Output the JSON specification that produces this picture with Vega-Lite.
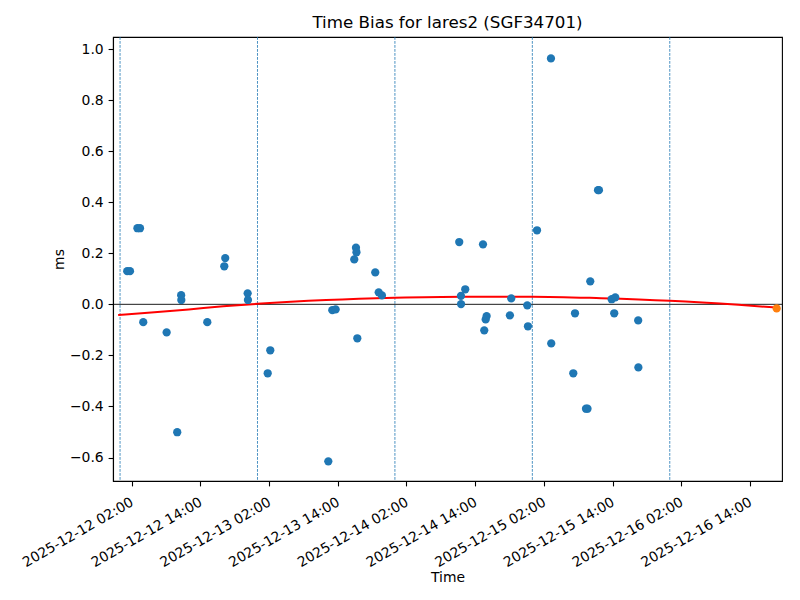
{
  "$schema": "https://vega.github.io/schema/vega-lite/v6.json",
  "width": 669,
  "height": 444,
  "autosize": {"type": "none"},
  "padding": {"left": 113, "top": 37, "right": 18, "bottom": 119},
  "background": "white",
  "title": {
    "text": "Time Bias for lares2 (SGF34701)",
    "font": "DejaVu Sans",
    "fontSize": 16.7,
    "fontWeight": "normal",
    "color": "black",
    "anchor": "middle",
    "offset": 5
  },
  "config": {
    "view": {"stroke": "black", "strokeWidth": 1.1},
    "axis": {
      "labelFont": "DejaVu Sans",
      "labelFontSize": 13.9,
      "labelColor": "black",
      "titleFont": "DejaVu Sans",
      "titleFontSize": 13.9,
      "titleFontWeight": "normal",
      "titleColor": "black",
      "domainColor": "black",
      "domainWidth": 1.1,
      "tickColor": "black",
      "tickWidth": 1.1,
      "tickSize": 4.9,
      "grid": false
    }
  },
  "datasets": {
    "obs": [
      {"t": "2025-12-12T01:15:00", "v": 0.130},
      {"t": "2025-12-12T01:44:00", "v": 0.130},
      {"t": "2025-12-12T03:02:00", "v": 0.298},
      {"t": "2025-12-12T03:29:00", "v": 0.298},
      {"t": "2025-12-12T04:03:00", "v": -0.070},
      {"t": "2025-12-12T08:08:00", "v": -0.110},
      {"t": "2025-12-12T09:59:00", "v": -0.501},
      {"t": "2025-12-12T10:40:00", "v": 0.036},
      {"t": "2025-12-12T10:42:00", "v": 0.017},
      {"t": "2025-12-12T15:14:00", "v": -0.070},
      {"t": "2025-12-12T18:12:00", "v": 0.149},
      {"t": "2025-12-12T18:22:00", "v": 0.181},
      {"t": "2025-12-12T22:17:00", "v": 0.043},
      {"t": "2025-12-12T22:20:00", "v": 0.017},
      {"t": "2025-12-13T01:47:00", "v": -0.270},
      {"t": "2025-12-13T02:14:00", "v": -0.180},
      {"t": "2025-12-13T12:22:00", "v": -0.615},
      {"t": "2025-12-13T13:04:00", "v": -0.023},
      {"t": "2025-12-13T13:39:00", "v": -0.020},
      {"t": "2025-12-13T16:54:00", "v": 0.176},
      {"t": "2025-12-13T17:12:00", "v": 0.222},
      {"t": "2025-12-13T17:17:00", "v": 0.204},
      {"t": "2025-12-13T17:26:00", "v": -0.133},
      {"t": "2025-12-13T20:34:00", "v": 0.125},
      {"t": "2025-12-13T21:10:00", "v": 0.047},
      {"t": "2025-12-13T21:44:00", "v": 0.035},
      {"t": "2025-12-14T11:14:00", "v": 0.244},
      {"t": "2025-12-14T11:32:00", "v": 0.033},
      {"t": "2025-12-14T11:33:00", "v": 0.001},
      {"t": "2025-12-14T12:17:00", "v": 0.059},
      {"t": "2025-12-14T15:23:00", "v": 0.235},
      {"t": "2025-12-14T15:36:00", "v": -0.102},
      {"t": "2025-12-14T15:51:00", "v": -0.059},
      {"t": "2025-12-14T16:01:00", "v": -0.046},
      {"t": "2025-12-14T20:05:00", "v": -0.043},
      {"t": "2025-12-14T20:19:00", "v": 0.023},
      {"t": "2025-12-14T23:07:00", "v": -0.004},
      {"t": "2025-12-14T23:14:00", "v": -0.086},
      {"t": "2025-12-15T00:49:00", "v": 0.290},
      {"t": "2025-12-15T03:15:00", "v": 0.963},
      {"t": "2025-12-15T03:18:00", "v": -0.153},
      {"t": "2025-12-15T07:09:00", "v": -0.270},
      {"t": "2025-12-15T07:27:00", "v": -0.035},
      {"t": "2025-12-15T09:22:00", "v": -0.409},
      {"t": "2025-12-15T09:38:00", "v": -0.409},
      {"t": "2025-12-15T10:07:00", "v": 0.090},
      {"t": "2025-12-15T11:28:00", "v": 0.447},
      {"t": "2025-12-15T11:38:00", "v": 0.447},
      {"t": "2025-12-15T13:51:00", "v": 0.020},
      {"t": "2025-12-15T14:18:00", "v": -0.035},
      {"t": "2025-12-15T14:29:00", "v": 0.027},
      {"t": "2025-12-15T18:29:00", "v": -0.063},
      {"t": "2025-12-15T18:31:00", "v": -0.247}
    ],
    "fit": [
      {"t": "2025-12-11T23:40:00", "v": -0.042},
      {"t": "2025-12-12T06:00:00", "v": -0.031},
      {"t": "2025-12-12T12:00:00", "v": -0.020},
      {"t": "2025-12-12T18:00:00", "v": -0.008},
      {"t": "2025-12-13T00:00:00", "v": 0.002},
      {"t": "2025-12-13T12:00:00", "v": 0.017},
      {"t": "2025-12-14T00:00:00", "v": 0.026},
      {"t": "2025-12-14T12:00:00", "v": 0.030},
      {"t": "2025-12-15T00:00:00", "v": 0.030},
      {"t": "2025-12-15T12:00:00", "v": 0.024},
      {"t": "2025-12-16T00:00:00", "v": 0.014},
      {"t": "2025-12-16T12:00:00", "v": -0.002},
      {"t": "2025-12-16T18:40:00", "v": -0.013}
    ],
    "pred": [
      {"t": "2025-12-16T18:40:00", "v": -0.016}
    ],
    "midnights": [
      {"t": "2025-12-12T00:00:00"},
      {"t": "2025-12-13T00:00:00"},
      {"t": "2025-12-14T00:00:00"},
      {"t": "2025-12-15T00:00:00"},
      {"t": "2025-12-16T00:00:00"}
    ],
    "zero": [
      {"v": 0}
    ]
  },
  "layer": [
    {
      "data": {"name": "midnights"},
      "mark": {"type": "rule", "color": "#1f77b4", "strokeWidth": 0.8, "strokeDash": [2.8, 1.2], "opacity": 1},
      "encoding": {
        "x": {
          "field": "t", "type": "temporal", "title": "Time",
          "scale": {"domain": [{"year": 2025, "month": 12, "date": 11, "hours": 22, "minutes": 46}, {"year": 2025, "month": 12, "date": 16, "hours": 19, "minutes": 36}]}
        }
      }
    },
    {
      "data": {"name": "zero"},
      "mark": {"type": "rule", "color": "black", "strokeWidth": 0.9},
      "encoding": {
        "y": {
          "field": "v", "type": "quantitative", "title": "ms",
          "scale": {"domain": [-0.692, 1.047], "nice": false, "zero": false}
        }
      }
    },
    {
      "data": {"name": "fit"},
      "mark": {"type": "line", "color": "red", "strokeWidth": 2, "interpolate": "monotone"},
      "encoding": {
        "x": {
          "field": "t", "type": "temporal", "title": "Time",
          "scale": {"domain": [{"year": 2025, "month": 12, "date": 11, "hours": 22, "minutes": 46}, {"year": 2025, "month": 12, "date": 16, "hours": 19, "minutes": 36}]}
        },
        "y": {
          "field": "v", "type": "quantitative", "title": "ms",
          "scale": {"domain": [-0.692, 1.047], "nice": false, "zero": false}
        }
      }
    },
    {
      "data": {"name": "obs"},
      "mark": {"type": "circle", "color": "#1f77b4", "opacity": 1, "size": 68},
      "encoding": {
        "x": {
          "field": "t", "type": "temporal", "title": "Time",
          "scale": {"domain": [{"year": 2025, "month": 12, "date": 11, "hours": 22, "minutes": 46}, {"year": 2025, "month": 12, "date": 16, "hours": 19, "minutes": 36}]},
          "axis": {
            "values": [
              {"year": 2025, "month": 12, "date": 12, "hours": 2},
              {"year": 2025, "month": 12, "date": 12, "hours": 14},
              {"year": 2025, "month": 12, "date": 13, "hours": 2},
              {"year": 2025, "month": 12, "date": 13, "hours": 14},
              {"year": 2025, "month": 12, "date": 14, "hours": 2},
              {"year": 2025, "month": 12, "date": 14, "hours": 14},
              {"year": 2025, "month": 12, "date": 15, "hours": 2},
              {"year": 2025, "month": 12, "date": 15, "hours": 14},
              {"year": 2025, "month": 12, "date": 16, "hours": 2},
              {"year": 2025, "month": 12, "date": 16, "hours": 14}
            ],
            "format": "%Y-%m-%d %H:%M",
            "labelAngle": -30,
            "labelAlign": "right",
            "labelBaseline": "top",
            "labelPadding": 9,
            "labelOffset": -3,
            "labelOverlap": false,
            "labelFlush": false,
            "titleX": 334.5,
            "titleY": 100.5,
            "titleBaseline": "alphabetic",
            "titleAlign": "center"
          }
        },
        "y": {
          "field": "v", "type": "quantitative", "title": "ms",
          "scale": {"domain": [-0.692, 1.047], "nice": false, "zero": false},
          "axis": {
            "values": [-0.6, -0.4, -0.2, 0.0, 0.2, 0.4, 0.6, 0.8, 1.0],
            "format": ".1f",
            "labelPadding": 4.9,
            "labelOverlap": false,
            "labelFlush": false,
            "titleX": -50,
            "titleY": 222,
            "titleBaseline": "alphabetic",
            "titleAlign": "center"
          }
        }
      }
    },
    {
      "data": {"name": "pred"},
      "mark": {"type": "circle", "color": "#ff7f0e", "opacity": 1, "size": 68},
      "encoding": {
        "x": {
          "field": "t", "type": "temporal", "title": "Time",
          "scale": {"domain": [{"year": 2025, "month": 12, "date": 11, "hours": 22, "minutes": 46}, {"year": 2025, "month": 12, "date": 16, "hours": 19, "minutes": 36}]}
        },
        "y": {
          "field": "v", "type": "quantitative", "title": "ms",
          "scale": {"domain": [-0.692, 1.047], "nice": false, "zero": false}
        }
      }
    }
  ]
}
